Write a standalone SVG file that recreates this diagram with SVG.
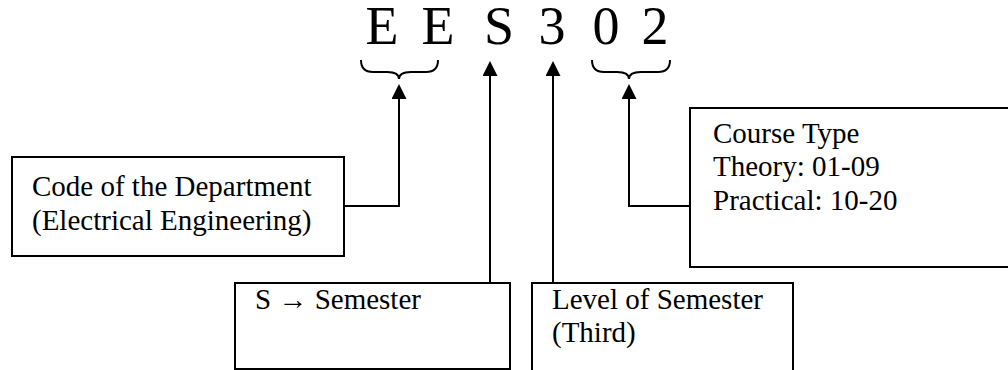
<svg xmlns="http://www.w3.org/2000/svg" width="1008" height="370" viewBox="0 0 1008 370">
  <style>
    .box { fill: #fff; stroke: #000; stroke-width: 2; }
    .lbl { font-family: "Liberation Serif", "Times New Roman", serif; font-size: 29px; fill: #000; }
    .code { font-family: "Liberation Serif", "Times New Roman", serif; font-size: 54px; fill: #000; text-anchor: middle; }
    .wire { fill: none; stroke: #000; stroke-width: 2; }
    .brace { fill: none; stroke: #000; stroke-width: 2; }
  </style>
  <defs>
    <marker id="head" markerUnits="userSpaceOnUse" markerWidth="15" markerHeight="15" viewBox="0 0 15 15" refX="0" refY="7.5" orient="auto">
      <path d="M0,0 L15,7.5 L0,15 z" fill="#000"/>
    </marker>
  </defs>
  <rect width="1008" height="370" fill="#fff"/>

  <!-- course code with grouping braces -->
  <g id="code">
    <text class="code" x="382 410 438 468 499 526 552 579 606 631 655" y="44">E E S 3 0 2</text>
    <path class="brace" d="M361,60 Q361,72 373,72 L387,72 Q399,72 399,79 Q399,72 411,72 L426,72 Q438,72 438,60"/>
    <path class="brace" d="M592,60 Q592,72 604,72 L617,72 Q629,72 629,79 Q629,72 641,72 L658,72 Q670,72 670,60"/>
  </g>

  <!-- department box -->
  <g id="department">
    <rect class="box" x="12" y="157" width="332" height="99"/>
    <text class="lbl" x="32" y="196">Code of the Department</text>
    <text class="lbl" x="32" y="230">(Electrical Engineering)</text>
  </g>

  <!-- course type box -->
  <g id="course-type">
    <rect class="box" x="690" y="108" width="330" height="159"/>
    <text class="lbl" x="713" y="143">Course Type</text>
    <text class="lbl" x="713" y="176">Theory: 01-09</text>
    <text class="lbl" x="713" y="210">Practical: 10-20</text>
  </g>

  <!-- semester box -->
  <g id="semester">
    <rect class="box" x="235" y="283" width="275" height="86"/>
    <text class="lbl" x="255" y="309">S → Semester</text>
  </g>

  <!-- semester level box -->
  <g id="level">
    <rect class="box" x="532" y="283" width="261" height="100"/>
    <text class="lbl" x="552" y="309">Level of Semester</text>
    <text class="lbl" x="552" y="342">(Third)</text>
  </g>

  <!-- connectors -->
  <g id="connectors">
    <path class="wire" d="M344,206 H399 V99" marker-end="url(#head)"/>
    <path class="wire" d="M490,283 V76" marker-end="url(#head)"/>
    <path class="wire" d="M553,283 V76" marker-end="url(#head)"/>
    <path class="wire" d="M690,206 H629 V99" marker-end="url(#head)"/>
  </g>
</svg>
